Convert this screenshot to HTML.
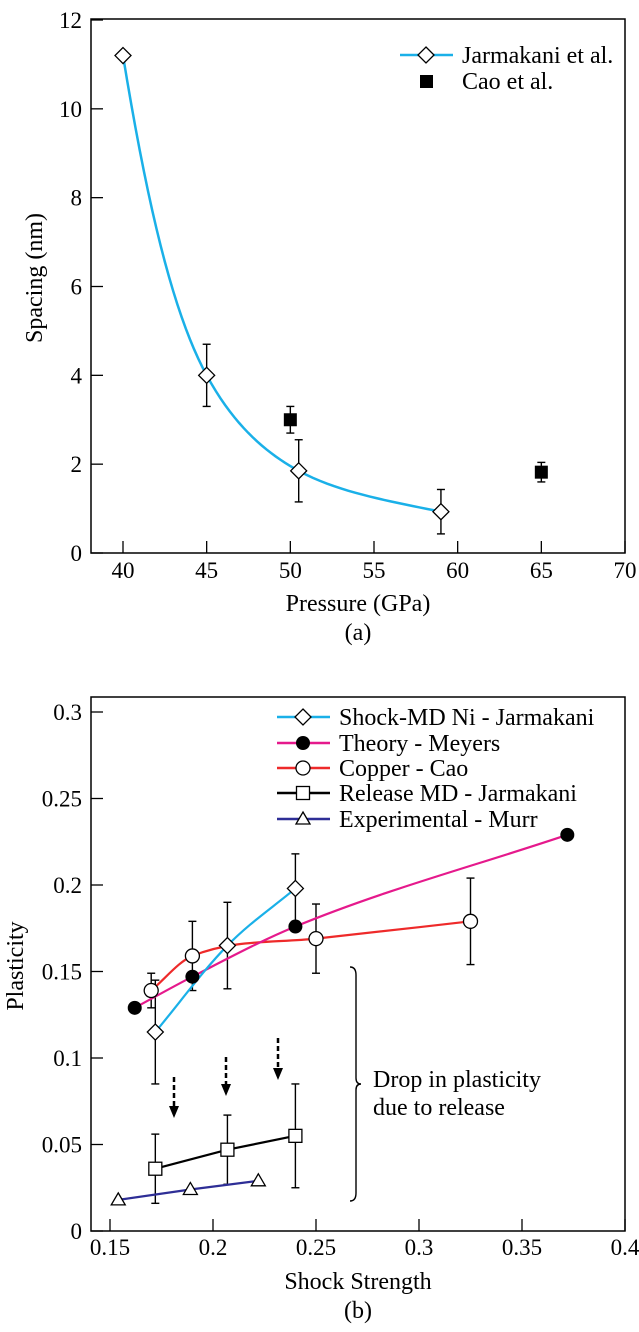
<!DOCTYPE html>
<html><head><meta charset="utf-8"><style>
html,body{margin:0;padding:0;background:#fff;}
svg{display:block;font-family:"Liberation Serif",serif;}
svg text{font-family:"Liberation Serif",serif;}
</style></head><body>
<svg id="fig" width="639" height="1332" viewBox="0 0 639 1332"></svg>
<script>
// ---- Chart (a) data ----
const aXTicks=[40,45,50,55,60,65,70];
const aYTicks=[0,2,4,6,8,10,12];
const jarX=[40,45,50.5,59];
const jarY=[11.2,4.0,1.85,0.93];
const jarErr=[0,0.7,0.7,0.5];
const caoX=[50,65];
const caoY=[3.0,1.82];
const caoErr=[0.3,0.22];
// ---- Chart (b) data ----
const bXTicks=[0.15,0.2,0.25,0.3,0.35,0.4];
const bYTicks=[0,0.05,0.1,0.15,0.2,0.25,0.3];
const niX=[0.172,0.207,0.24];
const niY=[0.115,0.165,0.198];
const niErr=[0.03,0.025,0.02];
const meyX=[0.162,0.19,0.24,0.372];
const meyY=[0.129,0.147,0.176,0.229];
const cuX=[0.17,0.19,0.25,0.325];
const cuY=[0.139,0.159,0.169,0.179];
const cuErr=[0.01,0.02,0.02,0.025];
const relX=[0.172,0.207,0.24];
const relY=[0.036,0.047,0.055];
const relErr=[0.02,0.02,0.03];
const murX=[0.154,0.189,0.222];
const murY=[0.018,0.024,0.029];

const NS="http://www.w3.org/2000/svg";
const svg=document.getElementById('fig');
function mk(tag,attrs,parent,txt){const e=document.createElementNS(NS,tag);for(const k in attrs)e.setAttribute(k,attrs[k]);if(tag==='text')e.setAttribute('font-family','Liberation Serif, serif');if(txt!==undefined)e.textContent=txt;(parent||svg).appendChild(e);return e;}

function monoSlopes(px,py){
  const n=px.length;const d=[],m=[];
  for(let i=0;i<n-1;i++)d.push((py[i+1]-py[i])/(px[i+1]-px[i]));
  m[0]=d[0];m[n-1]=d[n-2];
  for(let i=1;i<n-1;i++)m[i]=(d[i-1]*d[i]<=0)?0:(d[i-1]+d[i])/2;
  for(let i=0;i<n-1;i++){if(d[i]===0){m[i]=m[i+1]=0;continue;}const a=m[i]/d[i],b=m[i+1]/d[i],s=a*a+b*b;if(s>9){const t=3/Math.sqrt(s);m[i]=t*a*d[i];m[i+1]=t*b*d[i];}}
  return m;
}
function monoPath(px,py){
  const m=monoSlopes(px,py);const n=px.length;
  let p=`M${px[0]},${py[0]}`;
  for(let i=0;i<n-1;i++){const h=(px[i+1]-px[i])/3;p+=` C${px[i]+h},${py[i]+m[i]*h} ${px[i+1]-h},${py[i+1]-m[i+1]*h} ${px[i+1]},${py[i+1]}`;}
  return p;
}
function logCurve(xs,ys,sx,sy){
  const ly=ys.map(v=>Math.log(v));const m=monoSlopes(xs,ly);let p='';
  for(let i=0;i<xs.length-1;i++){const h=xs[i+1]-xs[i];
    for(let k=0;k<=20;k++){const t=k/20,t2=t*t,t3=t2*t;
      const v=(2*t3-3*t2+1)*ly[i]+(t3-2*t2+t)*h*m[i]+(-2*t3+3*t2)*ly[i+1]+(t3-t2)*h*m[i+1];
      const x=xs[i]+t*h;p+=(p?' L':'M')+sx(x).toFixed(2)+','+sy(Math.exp(v)).toFixed(2);}}
  return p;
}
function diamond(g,x,y,r){return mk('path',{d:`M${x},${y-r} L${x+r},${y} L${x},${y+r} L${x-r},${y} Z`,fill:'#fff',stroke:'#000','stroke-width':1.3},g);}
function errBar(g,x,y1,y2){mk('line',{x1:x,y1:y1,x2:x,y2:y2,stroke:'#000','stroke-width':1.4},g);mk('line',{x1:x-4,y1:y1,x2:x+4,y2:y1,stroke:'#000','stroke-width':1.4},g);mk('line',{x1:x-4,y1:y2,x2:x+4,y2:y2,stroke:'#000','stroke-width':1.4},g);}

// ===== Chart (a) =====
const A={l:91,r:625,t:19,b:553};
const ax=v=>123+(v-40)*(625-123)/30;
const ay=v=>553-v*(553-20)/12;
const ga=mk('g',{});


mk('rect',{x:A.l,y:A.t,width:A.r-A.l,height:A.b-A.t,fill:'none',stroke:'#000','stroke-width':1.5},ga);
aXTicks.forEach(v=>{const x=ax(v);mk('line',{x1:x,y1:A.b,x2:x,y2:A.b-12,stroke:'#000','stroke-width':1.3},ga);
  const t=mk('text',{x:x,y:A.b+25,'text-anchor':'middle','font-size':23},ga,String(v));});
aYTicks.forEach(v=>{const y=ay(v);mk('line',{x1:A.l,y1:y,x2:A.l+12,y2:y,stroke:'#000','stroke-width':1.3},ga);
  const t=mk('text',{x:A.l-9,y:y+8,'text-anchor':'end','font-size':23},ga,String(v));});
let t=mk('text',{x:358,y:611,'text-anchor':'middle','font-size':24},ga,'Pressure (GPa)');

t=mk('text',{x:358,y:640,'text-anchor':'middle','font-size':24},ga,'(a)');

t=mk('text',{x:0,y:0,'text-anchor':'middle','font-size':24,transform:'translate(42,278) rotate(-90)'},ga,'Spacing (nm)');

let c=mk('path',{d:logCurve(jarX,jarY,ax,ay),fill:'none',stroke:'#1ab0e8','stroke-width':2.5},ga);

jarX.forEach((v,i)=>{const x=ax(v),y=ay(jarY[i]);if(jarErr[i])errBar(ga,x,ay(jarY[i]+jarErr[i]),ay(jarY[i]-jarErr[i]));
  const d=diamond(ga,x,y,8);});
caoX.forEach((v,i)=>{const x=ax(v),y=ay(caoY[i]);errBar(ga,x,ay(caoY[i]+caoErr[i]),ay(caoY[i]-caoErr[i]));
  const r=mk('rect',{x:x-6.5,y:y-6.5,width:13,height:13,fill:'#000'},ga);});
const la=mk('g',{},ga);
mk('line',{x1:400,y1:55,x2:453,y2:55,stroke:'#1ab0e8','stroke-width':2.5},la);
diamond(la,426,55,8);
mk('text',{x:462,y:63,'font-size':24},la,'Jarmakani et al.');
mk('rect',{x:420,y:75,width:13,height:13,fill:'#000'},la);
mk('text',{x:462,y:89,'font-size':24},la,'Cao et al.');

// ===== Chart (b) =====
const B={l:91,r:625,t:697,b:1231};
const bx=v=>110+(v-0.15)*(625-110)/0.25;
const by=v=>1231-v*(1231-712)/0.3;
const gb=mk('g',{});


mk('rect',{x:B.l,y:B.t,width:B.r-B.l,height:B.b-B.t,fill:'none',stroke:'#000','stroke-width':1.5},gb);
bXTicks.forEach(v=>{const x=bx(v);mk('line',{x1:x,y1:B.b,x2:x,y2:B.b-12,stroke:'#000','stroke-width':1.3},gb);
  const t=mk('text',{x:x,y:B.b+24,'text-anchor':'middle','font-size':23},gb,String(v));});
bYTicks.forEach(v=>{const y=by(v);mk('line',{x1:B.l,y1:y,x2:B.l+12,y2:y,stroke:'#000','stroke-width':1.3},gb);
  const t=mk('text',{x:B.l-9,y:y+8,'text-anchor':'end','font-size':23},gb,String(v));});
t=mk('text',{x:358,y:1289,'text-anchor':'middle','font-size':24},gb,'Shock Strength');

t=mk('text',{x:358,y:1318,'text-anchor':'middle','font-size':24},gb,'(b)');

t=mk('text',{x:0,y:0,'text-anchor':'middle','font-size':24,transform:'translate(23,966) rotate(-90)'},gb,'Plasticity');


c=mk('path',{d:monoPath(cuX.map(bx),cuY.map(by)),fill:'none',stroke:'#ee2a2a','stroke-width':2.2},gb);

cuX.forEach((v,i)=>errBar(gb,bx(v),by(cuY[i]+cuErr[i]),by(cuY[i]-cuErr[i])));
niX.forEach((v,i)=>errBar(gb,bx(v),by(niY[i]+niErr[i]),by(niY[i]-niErr[i])));
relX.forEach((v,i)=>errBar(gb,bx(v),by(relY[i]+relErr[i]),by(relY[i]-relErr[i])));
c=mk('path',{d:monoPath(meyX.map(bx),meyY.map(by)),fill:'none',stroke:'#e5198c','stroke-width':2.2},gb);

c=mk('path',{d:monoPath(niX.map(bx),niY.map(by)),fill:'none',stroke:'#1ab0e8','stroke-width':2.2},gb);

c=mk('polyline',{points:relX.map((v,i)=>bx(v)+','+by(relY[i])).join(' '),fill:'none',stroke:'#000','stroke-width':2.2},gb);

c=mk('polyline',{points:murX.map((v,i)=>bx(v)+','+by(murY[i])).join(' '),fill:'none',stroke:'#2e2e96','stroke-width':2.2},gb);

cuX.forEach((v,i)=>{const m=mk('circle',{cx:bx(v),cy:by(cuY[i]),r:7,fill:'#fff',stroke:'#000','stroke-width':1.3},gb);});
meyX.forEach((v,i)=>{const m=mk('circle',{cx:bx(v),cy:by(meyY[i]),r:7,fill:'#000'},gb);});
niX.forEach((v,i)=>{const m=diamond(gb,bx(v),by(niY[i]),8);});
relX.forEach((v,i)=>{const m=mk('rect',{x:bx(v)-6.5,y:by(relY[i])-6.5,width:13,height:13,fill:'#fff',stroke:'#000','stroke-width':1.3},gb);});
murX.forEach((v,i)=>{const x=bx(v),y=by(murY[i]);const m=mk('path',{d:`M${x},${y-7} L${x+7},${y+5} L${x-7},${y+5} Z`,fill:'#fff',stroke:'#000','stroke-width':1.3},gb);});
[[174,1077,1118],[226,1057,1096],[278,1038,1080]].forEach(a=>{const g=mk('g',{},gb);
  mk('line',{x1:a[0],y1:a[1],x2:a[0],y2:a[2]-8,stroke:'#000','stroke-width':2.5,'stroke-dasharray':'5,3'},g);
  mk('path',{d:`M${a[0]-5},${a[2]-12} L${a[0]+5},${a[2]-12} L${a[0]},${a[2]} Z`,fill:'#000'},g);});
c=mk('path',{d:'M350,967 Q356,967 356,975 L356,1078 Q356,1084 361,1084 Q356,1084 356,1090 L356,1193 Q356,1201 350,1201',fill:'none',stroke:'#000','stroke-width':1.4},gb);

t=mk('text',{x:373,y:1087,'font-size':24},gb,'Drop in plasticity');

t=mk('text',{x:373,y:1115,'font-size':24},gb,'due to release');

const lb=mk('g',{},gb);
const legY=[717,743,768,793,819];
const legC=['#1ab0e8','#e5198c','#ee2a2a','#000','#2e2e96'];
const legT=['Shock-MD Ni - Jarmakani','Theory - Meyers','Copper - Cao','Release MD - Jarmakani','Experimental - Murr'];
legY.forEach((y,i)=>{mk('line',{x1:277,y1:y,x2:330,y2:y,stroke:legC[i],'stroke-width':2.5},lb);
  const x=303;
  if(i===0)diamond(lb,x,y,8);
  if(i===1)mk('circle',{cx:x,cy:y,r:7,fill:'#000'},lb);
  if(i===2)mk('circle',{cx:x,cy:y,r:7,fill:'#fff',stroke:'#000','stroke-width':1.3},lb);
  if(i===3)mk('rect',{x:x-6.5,y:y-6.5,width:13,height:13,fill:'#fff',stroke:'#000','stroke-width':1.3},lb);
  if(i===4)mk('path',{d:`M${x},${y-7} L${x+7},${y+5} L${x-7},${y+5} Z`,fill:'#fff',stroke:'#000','stroke-width':1.3},lb);
  mk('text',{x:339,y:y+8,'font-size':24},lb,legT[i]);});
</script>
</body></html>
